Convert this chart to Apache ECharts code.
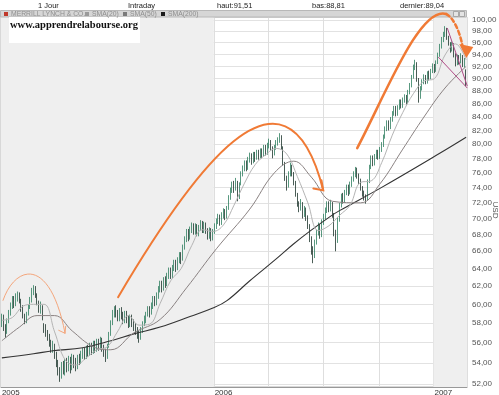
<!DOCTYPE html>
<html><head><meta charset="utf-8">
<script src="https://cdn.jsdelivr.net/npm/echarts@6/dist/echarts.min.js"></script>
<style>html,body{margin:0;padding:0;background:#fff}#c{width:499px;height:395px}</style>
</head><body><div id="c"></div>
<script>
// ---------- data ----------
const startDate = '2005-01-19';
const endDate = '2007-02-27';
const daysPerCandle = 2;
const holidays = ['2005-01-17','2005-02-21','2005-03-25','2005-05-30','2005-07-04','2005-09-05','2005-11-24','2005-12-26',
  '2006-01-02','2006-01-16','2006-02-20','2006-04-14','2006-05-29','2006-07-04','2006-09-04','2006-11-23','2006-12-25',
  '2007-01-01','2007-01-02','2007-01-15','2007-02-19'];
const yTicks = [52,54,56,58,60,62,64,66,68,70,72,74,76,78,80,82,84,86,88,90,92,94,96,98,100];
const yRange = [51.72, 100.54];
const legendNames = ['MERRILL LYNCH & CO.','SMA(20)','SMA(50)','SMA(200)'];
const headerLabels = ['1 Jour','Intraday','haut:','bas:','dernier:'];
const watermark = 'www.apprendrelabourse.org';
const unitName = 'USD';
// [open, close, low, high], one candle per 2 trading days
const candles = [
[58.0,58.5,57.6,59.0],[58.6,57.6,57.2,58.9],[57.5,57.0,56.5,57.9],[57.1,58.2,56.9,58.5],[58.3,59.0,58.0,59.4],
[59.1,59.8,58.8,60.2],[59.7,60.5,59.5,60.9],[60.6,60.0,59.6,60.9],[60.1,60.8,59.8,61.2],[60.7,61.0,60.3,61.4],
[61.1,60.4,60.1,61.3],[60.3,59.5,59.2,60.6],[59.6,58.8,58.5,59.9],[58.7,58.3,57.9,59.0],[58.2,58.9,58.0,59.2],
[59.0,59.7,58.8,60.0],[59.8,60.5,59.5,60.8],[60.4,61.5,60.2,61.8],[61.4,61.8,61.0,62.1],[61.9,61.0,60.7,62.0],
[60.9,60.2,59.9,61.2],[60.1,59.5,59.1,60.4],[59.4,59.8,59.0,60.3],[59.7,58.6,58.3,59.9],[57.8,57.4,57.0,58.0],
[57.5,57.0,56.6,57.9],[57.1,56.7,56.2,57.3],[56.6,56.0,55.6,56.9],[56.1,55.4,55.0,56.3],[55.3,55.8,55.0,56.2],
[55.7,54.8,54.4,55.9],[54.9,54.0,53.6,55.1],[54.1,53.3,52.8,54.3],[53.4,52.9,52.2,53.6],[52.8,53.8,52.5,54.1],
[53.9,53.3,52.9,54.2],[53.2,54.0,52.8,54.4],[54.1,53.6,53.1,54.5],[53.5,54.3,53.2,54.7],[54.4,53.5,53.0,54.6],
[53.6,54.5,53.3,54.9],[54.6,54.0,53.5,54.8],[54.1,53.8,53.2,54.5],[53.7,54.5,53.4,54.8],[54.6,54.2,53.8,54.9],
[54.1,54.8,53.9,55.2],[54.7,55.1,54.4,55.5],[55.2,54.7,54.3,55.5],[54.6,55.3,54.4,55.7],[55.4,55.0,54.6,55.8],
[54.9,55.6,54.7,56.0],[55.7,55.2,54.8,56.0],[55.1,55.8,54.9,56.2],[55.9,55.4,55.0,56.2],[55.3,56.0,55.1,56.4],
[56.1,55.6,55.2,56.4],[55.5,56.2,55.3,56.6],[56.3,55.5,55.1,56.5],[55.4,55.0,54.6,55.8],[55.1,54.6,54.1,55.4],
[54.7,55.6,54.4,55.9],[55.7,56.8,55.5,57.1],[56.9,58.0,56.7,58.3],[58.1,59.0,57.8,59.4],[58.9,59.5,58.6,59.8],
[59.6,59.0,58.6,59.9],[59.1,58.6,58.2,59.4],[58.5,59.3,58.2,59.6],[59.4,58.8,58.4,59.7],[58.9,58.3,57.9,59.2],
[58.2,58.9,58.0,59.3],[59.0,58.4,58.0,59.3],[58.5,57.9,57.5,58.8],[57.8,58.5,57.6,58.9],[58.6,58.0,57.6,58.9],
[58.1,57.6,57.2,58.4],[57.7,57.2,56.8,58.0],[57.3,56.8,56.4,57.6],[56.9,56.6,56.0,57.2],[56.5,57.3,56.3,57.6],
[57.2,57.9,57.0,58.2],[58.0,58.4,57.7,58.8],[58.3,58.9,58.0,59.2],[59.0,59.4,58.7,59.8],[59.5,59.0,58.6,59.8],
[59.1,59.8,58.9,60.2],[59.7,60.5,59.5,60.9],[60.6,60.2,59.8,60.9],[60.1,61.0,59.9,61.3],[60.9,61.6,60.6,62.0],
[61.7,62.2,61.3,62.6],[62.3,61.8,61.3,62.6],[61.7,62.6,61.5,63.0],[62.7,62.3,61.8,63.1],[62.2,63.1,62.0,63.5],
[63.2,63.7,62.8,64.1],[63.8,63.2,62.8,64.1],[63.1,64.0,62.9,64.4],[64.1,64.6,63.7,65.0],[64.7,64.1,63.6,65.0],
[64.0,64.9,63.8,65.3],[65.0,65.4,64.6,65.9],[65.5,65.0,64.5,65.9],[65.1,66.4,64.9,66.8],[66.5,67.4,66.2,67.8],
[67.5,68.2,67.1,68.7],[68.3,67.7,67.2,68.7],[67.6,68.6,67.4,69.0],[68.7,69.0,68.2,69.5],[69.1,68.4,68.0,69.4],
[68.3,69.0,68.0,69.4],[69.1,68.2,67.8,69.3],[68.1,68.8,67.8,69.2],[68.9,69.4,68.5,69.8],[69.5,68.6,68.2,69.7],
[68.5,69.2,68.2,69.6],[69.3,68.5,68.1,69.5],[68.4,67.9,67.4,68.8],[67.8,68.5,67.5,68.9],[68.6,67.7,67.2,68.8],
[67.6,68.3,67.3,68.7],[68.4,69.0,68.1,69.4],[69.1,69.6,68.7,70.0],[69.7,70.2,69.3,70.6],[70.3,69.5,69.1,70.5],
[69.4,70.4,69.2,70.8],[70.5,70.9,70.0,71.3],[71.0,70.2,69.8,71.2],[70.3,71.2,70.0,71.6],[71.3,72.6,71.1,73.0],
[72.7,73.6,72.4,74.0],[73.7,74.3,73.3,74.8],[74.4,73.8,73.3,74.9],[73.9,74.8,73.6,75.3],[74.7,72.6,72.2,74.9],
[72.7,74.4,72.5,74.7],[74.5,75.8,74.3,76.2],[75.9,76.5,75.5,77.0],[76.6,77.2,76.2,77.7],[77.3,76.7,76.2,77.7],
[76.6,77.8,76.4,78.2],[77.9,78.3,77.4,78.8],[78.4,77.6,77.1,78.7],[77.5,78.5,77.3,78.9],[78.6,78.0,77.5,78.9],
[78.1,78.8,77.8,79.2],[78.9,78.3,77.8,79.2],[78.2,79.0,78.0,79.4],[79.1,78.5,78.0,79.4],[78.6,79.5,78.3,79.9],
[79.6,78.8,78.4,79.9],[78.7,79.8,78.5,80.2],[79.9,80.3,79.4,80.8],[80.4,79.6,79.1,80.6],[79.5,78.6,78.0,79.7],
[78.7,79.5,78.4,79.9],[79.6,80.2,79.2,80.6],[80.3,80.6,79.8,81.0],[80.7,81.2,80.2,81.6],[81.1,79.6,79.2,81.3],
[79.5,77.4,77.0,79.7],[77.3,75.4,74.9,77.5],[75.3,74.2,73.6,75.6],[74.3,75.8,74.0,76.2],[75.9,77.0,75.5,77.4],
[76.9,76.0,75.5,77.1],[75.9,74.8,74.3,76.1],[74.7,73.2,72.8,74.9],[73.1,72.0,71.5,73.3],[71.9,71.3,70.8,72.2],
[71.4,72.0,71.0,72.5],[71.9,70.5,70.0,72.1],[70.6,71.2,70.2,71.6],[71.1,70.2,69.7,71.4],[70.1,69.2,68.7,70.4],
[69.1,67.6,67.1,69.3],[67.5,66.2,65.6,67.8],[66.1,65.4,64.6,66.6],[65.5,67.0,65.2,67.4],[67.1,68.2,66.8,68.6],
[68.3,69.0,67.9,69.5],[69.1,68.0,67.5,69.3],[67.9,69.5,67.7,69.9],[69.6,70.2,69.2,70.6],[70.3,71.0,69.9,71.4],
[71.1,71.8,70.7,72.2],[71.9,71.2,70.8,72.2],[71.3,72.0,70.9,72.4],[71.9,70.6,70.1,72.1],[70.5,68.4,67.8,70.7],
[68.3,67.2,66.0,68.6],[67.3,69.8,67.0,70.2],[69.9,71.6,69.6,72.0],[71.7,72.8,71.4,73.2],[72.9,72.4,71.9,73.3],
[72.3,73.3,72.0,73.7],[73.4,74.0,73.0,74.4],[74.1,73.4,72.9,74.4],[73.3,74.4,73.1,74.8],[74.5,75.1,74.1,75.5],
[75.2,75.8,74.8,76.2],[75.9,76.3,75.4,76.8],[76.4,75.6,75.2,76.7],[75.5,75.0,74.5,75.9],[74.9,74.0,73.6,75.2],
[73.9,73.2,72.8,74.2],[73.1,72.8,72.3,73.6],[72.7,72.4,71.9,73.1],[72.5,74.8,72.3,75.1],[74.9,76.8,74.6,77.1],
[76.9,78.0,76.5,78.4],[78.1,77.4,76.9,78.4],[77.3,78.2,77.0,78.6],[78.3,78.8,77.9,79.2],[78.9,78.3,77.8,79.2],
[78.2,79.2,77.9,79.6],[79.3,79.8,78.9,80.3],[79.9,81.0,79.6,81.4],[81.1,82.2,80.8,82.6],[82.3,83.0,81.9,83.5],
[83.1,82.6,82.0,83.5],[82.5,83.6,82.2,84.0],[83.7,84.5,83.3,84.9],[84.6,85.2,84.2,85.7],[85.3,84.6,84.1,85.7],
[84.5,85.4,84.2,85.8],[85.5,86.2,85.1,86.7],[86.3,85.8,85.3,86.7],[85.7,86.6,85.4,87.0],[86.7,87.0,86.2,87.5],
[87.1,86.4,85.9,87.4],[86.3,87.8,86.1,88.2],[87.9,88.8,87.5,89.3],[88.9,90.2,88.6,90.6],[90.3,91.8,90.0,92.3],
[91.9,92.6,91.4,93.1],[92.5,90.0,89.5,92.7],[89.9,87.0,86.2,90.1],[87.1,88.4,86.8,88.8],[88.5,89.4,88.1,89.9],
[89.5,90.2,89.1,90.7],[90.3,89.6,89.1,90.6],[89.5,90.8,89.2,91.2],[90.9,90.2,89.7,91.3],[90.1,91.2,89.9,91.6],
[91.3,92.0,90.9,92.5],[92.1,91.4,90.9,92.4],[91.3,92.6,91.1,93.0],[92.7,93.8,92.4,94.3],[93.9,95.3,93.6,95.8],
[95.4,96.5,95.0,97.0],[96.6,97.4,96.1,97.9],[97.5,98.4,97.0,98.9],[98.3,97.0,96.5,98.6],[96.9,96.0,95.5,97.2],
[95.9,94.8,94.3,96.1],[94.9,95.8,94.5,96.2],[95.7,94.0,93.5,95.9],[93.9,92.5,92.0,94.2],[92.6,93.6,92.2,94.0],
[93.7,92.8,92.3,93.9],[92.9,93.8,92.5,94.2],[93.7,92.4,91.9,93.9],[92.5,92.6,91.8,93.4],[91.4,89.04,88.81,91.51]
];
// moving averages: [candle index, value]
const sma20 = [[0,58.3],[6,58.6],[12,59.8],[18,60.0],[24,60.0],[30,57.1],[36,54.3],[42,53.8],[48,54.5],[54,55.3],[60,55.6],
  [66,57.2],[72,58.8],[78,57.8],[84,57.9],[90,60.1],[96,62.6],[102,64.0],[108,66.7],[114,68.6],[120,68.4],[126,69.2],
  [132,71.7],[138,74.6],[144,77.1],[150,78.5],[156,79.4],[162,78.6],[168,75.5],[174,72.0],[180,68.5],[186,69.1],
  [192,70.4],[198,71.7],[204,74.7],[210,74.9],[216,77.4],[222,81.3],[228,84.7],[234,87.6],[240,89.6],[246,90.0],
  [252,93.9],[258,95.8],[264,93.1]];
const sma50 = [[0,56.2],[10,57.6],[20,58.8],[30,58.8],[40,57.2],[52,55.6],[62,55.3],[75,57.0],[90,58.4],[105,61.8],
  [122,66.3],[141,71.2],[155,76.0],[166,77.6],[176,75.4],[188,72.2],[204,72.0],[215,74.5],[228,79.3],[240,84.0],
  [252,88.5],[264,92.0]];
const sma200 = [[0,54.5],[18,54.9],[29,55.2],[46,55.5],[62,56.2],[75,56.9],[90,57.6],[107,58.7],[120,59.6],[128,60.4],
  [141,62.6],[156,65.1],[166,66.9],[175,68.4],[187,70.3],[192,71.0],[215,73.9],[249,78.7],[264,81.0]];
// hand-drawn annotations, anchors in [candle index, price]
const annotations = [
  {kind:'curve', pts:[[0.64,60.43],[7.47,64.37],[27.38,65.53],[35.92,56.96]], color:'#f4a67c', width:1, arrow:{angle:60,size:7}},
  {kind:'curve', pts:[[66.08,60.77],[107.04,75.68],[161.1,96.47],[182.73,73.66]], color:'#f07a35', width:2, arrow:{angle:45,size:10}},
  {kind:'curve', pts:[[202.07,79.44],[218.0,87.38],[237.92,102.73],[252.71,101.08]], color:'#f07a35', width:2.5},
  {kind:'curve', pts:[[252.71,101.08],[257.26,100.36],[260.68,97.51],[261.82,95.60]], color:'#f07a35', width:2.5, dash:[4,3]},
  {kind:'triangle', pts:[[260.1,95.78],[268.08,95.26],[264.1,93.39]], color:'#f07a35'},
  {kind:'segment', pts:[[253.28,98.57],[264.66,88.81]], color:'#b04a86', width:1},
  {kind:'segment', pts:[[248.16,93.56],[264.66,88.49]], color:'#b04a86', width:1}
];

// ---------- categories (trading days, grouped) ----------
function tradingDays(){
  const hol = new Set(holidays), out = [];
  let t = Date.parse(startDate+'T00:00:00Z'); const end = Date.parse(endDate+'T00:00:00Z');
  while (t <= end){
    const d = new Date(t), wd = d.getUTCDay(), s = d.toISOString().slice(0,10);
    if (wd !== 0 && wd !== 6 && !hol.has(s)) out.push(s);
    t += 86400000;
  }
  return out;
}
const days = tradingDays();
const categories = [];
for (let i = 0; i < days.length && categories.length < candles.length; i += daysPerCandle) categories.push(days[i]);
const N = categories.length;
const ln = Math.log;
const yearOf = s => s.slice(0,4);
const quarterOf = s => s.slice(0,4) + 'Q' + Math.floor((+s.slice(5,7) - 1) / 3);
const yearStart = i => i === 0 || yearOf(categories[i]) !== yearOf(categories[i-1]);
const quarterStart = i => i > 0 && quarterOf(categories[i]) !== quarterOf(categories[i-1]);
const yearIdx = categories.map((c,i)=>i).filter(yearStart);
const shade = [];
for (let j = 0; j < yearIdx.length; j += 2) {
  shade.push([{xAxis: yearIdx[j]-0.5}, {xAxis: (j+1 < yearIdx.length ? yearIdx[j+1] : N) - 0.5}]);
}
const fmt = v => v.toFixed(2).replace('.', ',');
const FONT = 'Liberation Sans, Arial, sans-serif';

const chart = echarts.init(document.getElementById('c'), null, {renderer:'canvas', width:499, height:395});
chart.setOption({
  animation:false,
  backgroundColor:'#fff',
  textStyle:{fontFamily:FONT},
  grid:{left:1, right:32, top:17, bottom:8, show:true, borderColor:'#b0b0b0', borderWidth:1, backgroundColor:'transparent',
        containLabel:false, outerBoundsMode:'none'},
  xAxis:[{
    type:'category', data:categories, boundaryGap:true,
    axisLine:{lineStyle:{color:'#999'}},
    axisTick:{interval:(i)=>yearStart(i), length:8, lineStyle:{color:'#777'}},
    axisLabel:{interval:(i)=>yearStart(i), formatter:v=>yearOf(v), align:'left', fontSize:8, color:'#333', margin:2},
    splitLine:{show:true, interval:(i)=>quarterStart(i), lineStyle:{color:'#dedede', width:1}}
  },{
    type:'value', min:-0.5, max:N-0.5, show:false
  }],
  yAxis:{
    type:'value', position:'right', min:ln(yRange[0]), max:ln(yRange[1]),
    axisLine:{show:true, lineStyle:{color:'#999'}},
    axisTick:{show:false, customValues:yTicks.map(ln)},
    axisLabel:{customValues:yTicks.map(ln), formatter:v=>fmt(Math.round(Math.exp(v))), fontSize:8, color:'#555', margin:5},
    splitLine:{show:true, lineStyle:{color:'#e2e2e2', width:1}}
  },
  series:[
    {type:'line', xAxisIndex:1, data:[], z:-1, silent:true,
     markArea:{silent:true, itemStyle:{color:'#efefef'}, data:shade}},
    {type:'candlestick', name:legendNames[0], xAxisIndex:0, data:candles.map(r=>r.map(ln)), barWidth:1,
     itemStyle:{color:'#3f9c78', color0:'#213d33', borderColor:'#2f7f60', borderColor0:'#1d352c', borderWidth:0.8}},
    {type:'line', name:legendNames[3], xAxisIndex:1, data:sma200.map(([k,v])=>[k,ln(v)]), smooth:0.4, showSymbol:false, z:3,
     lineStyle:{color:'#333', width:1.1}},
    {type:'line', name:legendNames[2], xAxisIndex:1, data:sma50.map(([k,v])=>[k,ln(v)]), smooth:0.4, showSymbol:false, z:3,
     lineStyle:{color:'#8a8282', width:1}},
    {type:'line', name:legendNames[1], xAxisIndex:1, data:sma20.map(([k,v])=>[k,ln(v)]), smooth:0.4, showSymbol:false, z:3,
     lineStyle:{color:'#b4b4b4', width:1}}
  ]
});

// ---------- chrome & annotations ----------
const P = (k,p) => chart.convertToPixel({xAxisIndex:1, yAxisIndex:0}, [k, ln(p)]);
const g = [];
const last = candles[candles.length-1];
const header = [[headerLabels[0],38],[headerLabels[1],128],[headerLabels[2]+fmt(last[3]),217],[headerLabels[3]+fmt(last[2]),312],[headerLabels[4]+fmt(last[1]),400]];
header.forEach(([t,x])=>g.push({type:'text', x:x, y:5.5, style:{text:t, fontSize:7.5, fontFamily:FONT, fill:'#222', verticalAlign:'middle'}}));
g.push({type:'rect', shape:{x:0.5,y:10.5,width:466,height:6.5}, style:{fill:'#d6d6d6', stroke:'#b8b8b8', lineWidth:1}, z:50});
const legCol = ['#c0392b','#9a9a9a','#7a7a7a','#1a1a1a'];
const legX = [4,85,123,161];
legendNames.forEach((n,i)=>{
  g.push({type:'rect', shape:{x:legX[i],y:12,width:4,height:4}, style:{fill:legCol[i]}, z:51});
  g.push({type:'text', x:legX[i]+7, y:14.3, style:{text:n, fontSize:6.8, fontFamily:FONT, fill:'#8e8e8e', verticalAlign:'middle'}, z:51});
});
[453,459].forEach(x=>g.push({type:'rect', shape:{x:x+0.5,y:11.5,width:5,height:5}, style:{fill:'#e4e4e4', stroke:'#999', lineWidth:0.8}, z:51}));
g.push({type:'rect', shape:{x:9,y:17,width:131,height:26}, style:{fill:'#fff'}, z:50});
g.push({type:'text', x:10, y:25, style:{text:watermark, fontSize:10.5, fontWeight:'bold', fontFamily:'Liberation Serif, DejaVu Serif, serif', fill:'#111', verticalAlign:'middle'}, z:51});
g.push({type:'text', x:495, y:210, rotation:-Math.PI/2, style:{text:unitName, fontSize:8, fontFamily:FONT, fill:'#555', align:'center', verticalAlign:'middle'}, z:51});

annotations.forEach(a=>{
  const pts = a.pts.map(([k,p])=>P(k,p));
  if (a.kind === 'curve') {
    g.push({type:'bezierCurve', shape:{x1:pts[0][0],y1:pts[0][1],cpx1:pts[1][0],cpy1:pts[1][1],cpx2:pts[2][0],cpy2:pts[2][1],x2:pts[3][0],y2:pts[3][1]},
      style:{stroke:a.color, lineWidth:a.width, fill:null, lineDash:a.dash||null, lineCap:'round'}, z:60});
    if (a.arrow) {
      const tip = pts[3], back = (a.arrow.angle + 180) * Math.PI/180, h = 35*Math.PI/180, s = a.arrow.size;
      g.push({type:'polyline', shape:{points:[[tip[0]+s*Math.cos(back-h), tip[1]+s*Math.sin(back-h)], tip, [tip[0]+s*Math.cos(back+h), tip[1]+s*Math.sin(back+h)]]},
        style:{stroke:a.color, lineWidth:a.width, fill:null, lineCap:'round'}, z:60});
    }
  } else if (a.kind === 'triangle') {
    g.push({type:'polygon', shape:{points:pts}, style:{fill:a.color}, z:60});
  } else {
    g.push({type:'line', shape:{x1:pts[0][0],y1:pts[0][1],x2:pts[1][0],y2:pts[1][1]}, style:{stroke:a.color, lineWidth:a.width}, z:55});
  }
});
chart.setOption({graphic:g});
</script>
</body></html>
